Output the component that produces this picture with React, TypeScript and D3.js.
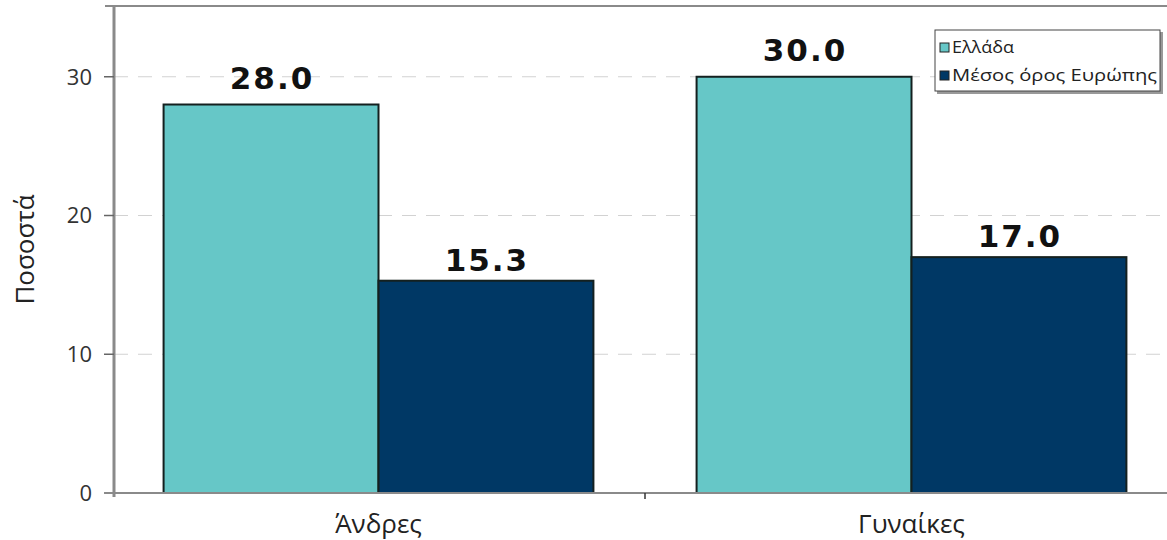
import React, { useEffect, useRef } from "react";
import * as d3 from "d3";

const categories = ["Άνδρες", "Γυναίκες"];
const seriesNames = ["Ελλάδα", "Μέσος όρος Ευρώπης"];
const greece = [28.0, 30.0];
const europe = [15.3, 17.0];
const yTicks = [0, 10, 20, 30];

const colors = ["#66c7c7", "#003865"];

export default function App() {
  const ref = useRef<SVGSVGElement>(null);

  useEffect(() => {
    const width = 1167;
    const height = 540;
    const left = 114;
    const top = 6;
    const bottom = 493;

    const svg = d3.select(ref.current).attr("width", width).attr("height", height);
    svg.selectAll("*").remove();

    const y = d3.scaleLinear().domain([0, 35.1]).range([bottom, top]);

    const x0 = d3.scaleBand().domain(categories).range([112, 1178]).padding(0);
    const x1 = d3.scaleBand().domain(seriesNames).range([0, x0.bandwidth()]).paddingInner(0).paddingOuter(0.24);

    // grid lines
    svg.append("g")
      .selectAll("line")
      .data(yTicks.filter(d => d > 0))
      .enter()
      .append("line")
      .attr("x1", left)
      .attr("x2", width)
      .attr("y1", d => y(d))
      .attr("y2", d => y(d))
      .attr("stroke", "#d2d2d2")
      .attr("stroke-width", 1.2)
      .attr("stroke-dasharray", "14 10");

    // top border
    svg.append("line")
      .attr("x1", 105).attr("x2", width)
      .attr("y1", top).attr("y2", top)
      .attr("stroke", "#8a8a8a").attr("stroke-width", 2);

    // bars
    const rows = categories.map((c, i) => ({ cat: c, values: [greece[i], europe[i]] }));
    const groups = svg.append("g")
      .selectAll("g")
      .data(rows)
      .enter()
      .append("g")
      .attr("transform", d => `translate(${x0(d.cat)},0)`);

    groups.selectAll("rect")
      .data(d => d.values.map((v, j) => ({ name: seriesNames[j], v, j })))
      .enter()
      .append("rect")
      .attr("x", d => x1(d.name)!)
      .attr("y", d => y(d.v))
      .attr("width", x1.bandwidth())
      .attr("height", d => bottom - y(d.v))
      .attr("fill", d => colors[d.j])
      .attr("stroke", "#14201f")
      .attr("stroke-width", 2);

    const labelGap = [16, 10];
    groups.selectAll("text.val")
      .data(d => d.values.map((v, j) => ({ name: seriesNames[j], v, j })))
      .enter()
      .append("text")
      .attr("class", "val")
      .attr("x", d => x1(d.name)! + x1.bandwidth() / 2 + 1)
      .attr("y", d => y(d.v) - labelGap[d.j])
      .attr("text-anchor", "middle")
      .style("font-family", "DejaVu Sans")
      .style("font-weight", "bold")
      .style("font-size", "31px")
      .style("letter-spacing", "2px")
      .attr("fill", "#111")
      .text(d => d.v.toFixed(1));

    // y axis
    svg.append("line")
      .attr("x1", left).attr("x2", left)
      .attr("y1", top).attr("y2", bottom + 4)
      .attr("stroke", "#8a8a8a").attr("stroke-width", 3);

    const yAxis = svg.append("g");
    yAxis.selectAll("line")
      .data(yTicks)
      .enter()
      .append("line")
      .attr("x1", 104).attr("x2", left)
      .attr("y1", d => y(d)).attr("y2", d => y(d))
      .attr("stroke", "#666").attr("stroke-width", 1.5);
    yAxis.selectAll("text")
      .data(yTicks)
      .enter()
      .append("text")
      .attr("x", 92)
      .attr("y", d => y(d))
      .attr("dy", "0.36em")
      .attr("text-anchor", "end")
      .style("font-family", "Open Sans")
      .style("font-size", "22px")
      .attr("fill", "#333")
      .text(d => d);

    // x axis
    svg.append("line")
      .attr("x1", 105).attr("x2", width)
      .attr("y1", bottom).attr("y2", bottom)
      .attr("stroke", "#8a8a8a").attr("stroke-width", 2);

    svg.append("line")
      .attr("x1", x0(categories[1])!).attr("x2", x0(categories[1])!)
      .attr("y1", bottom).attr("y2", bottom + 6)
      .attr("stroke", "#333").attr("stroke-width", 1.5);

    svg.append("g")
      .selectAll("text")
      .data(categories)
      .enter()
      .append("text")
      .attr("x", d => x0(d)! + x1(seriesNames[1])!)
      .attr("y", 533)
      .attr("text-anchor", "middle")
      .style("font-family", "Open Sans")
      .style("font-size", "26px")
      .attr("fill", "#222")
      .text(d => d);

    // y title
    svg.append("text")
      .attr("transform", `translate(34, ${(top + bottom) / 2}) rotate(-90)`)
      .attr("text-anchor", "middle")
      .style("font-family", "Open Sans")
      .style("font-size", "26px")
      .attr("fill", "#222")
      .text("Ποσοστά");

    // legend
    const lg = svg.append("g").attr("transform", "translate(935,30)");
    lg.append("rect")
      .attr("x", 2).attr("y", 2).attr("width", 226).attr("height", 62)
      .attr("fill", "#999");
    lg.append("rect")
      .attr("x", 0).attr("y", 0).attr("width", 225).attr("height", 61)
      .attr("fill", "#fff").attr("stroke", "#444").attr("stroke-width", 1);
    seriesNames.forEach((s, i) => {
      const yy = 17 + i * 28;
      lg.append("rect")
        .attr("x", 5).attr("y", yy - 4).attr("width", 9).attr("height", 9)
        .attr("fill", colors[i]).attr("stroke", "#222").attr("stroke-width", 1);
      lg.append("text")
        .attr("x", 17).attr("y", yy)
        .attr("dy", "0.35em")
        .style("font-family", "Open Sans")
        .style("font-size", "16px")
        .attr("fill", "#222")
        .attr("textLength", i === 0 ? 62 : 205)
        .attr("lengthAdjust", "spacingAndGlyphs")
        .text(s);
    });
  }, []);

  return (
    <svg ref={ref} style={{ position: "fixed", left: 0, top: 0, background: "#fff" }} />
  );
}
